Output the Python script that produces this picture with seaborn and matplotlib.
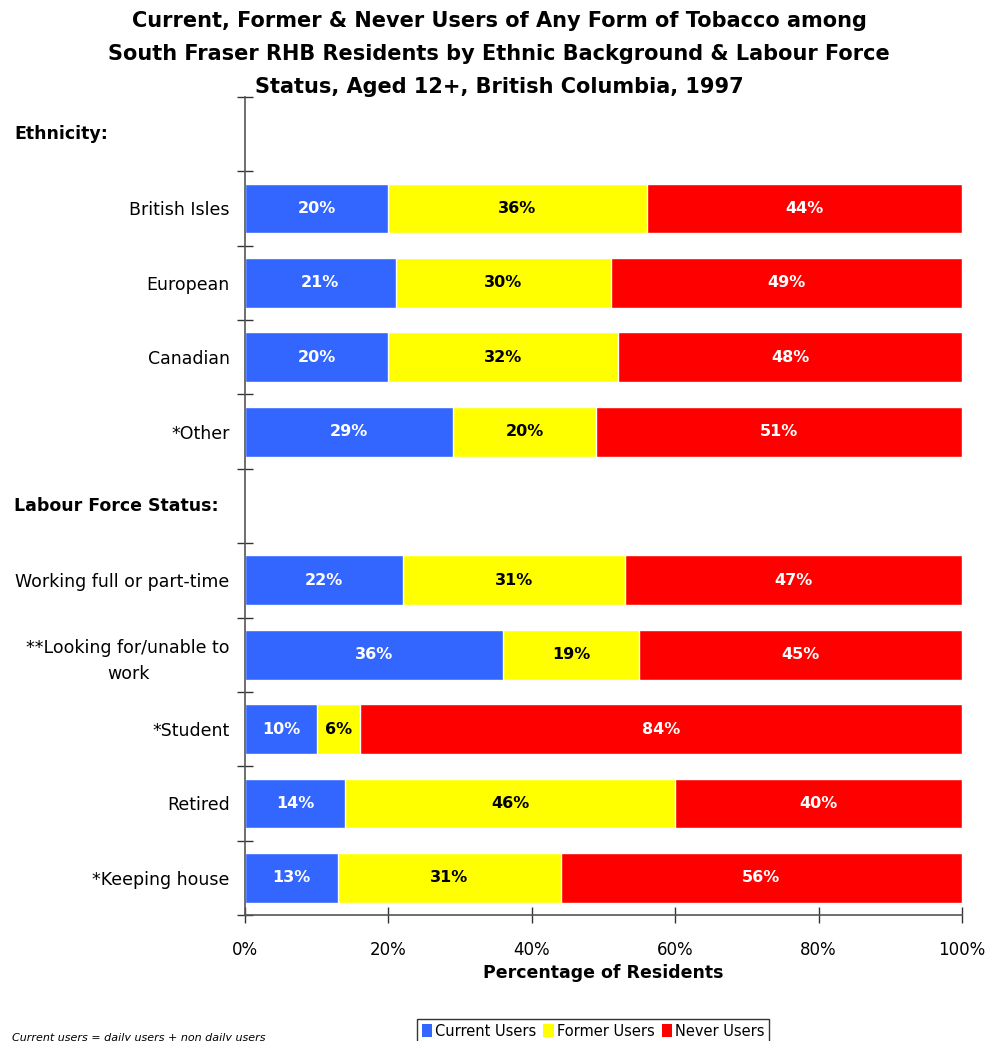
import matplotlib
matplotlib.use("Agg")
import matplotlib.pyplot as plt
import seaborn as sns
import numpy as np
import pandas as pd
from matplotlib.patches import Patch
from matplotlib.transforms import blended_transform_factory

rows = ["Ethnicity:", "British Isles", "European", "Canadian", "*Other",
        "Labour Force Status:", "Working full or part-time",
        "**Looking for/unable to\nwork", "*Student", "Retired", "*Keeping house"]
headers = ["Ethnicity:", "Labour Force Status:"]

groups = ["British Isles", "European", "Canadian", "*Other",
          "Working full or part-time", "**Looking for/unable to\nwork",
          "*Student", "Retired", "*Keeping house"]
current = [20, 21, 20, 29, 22, 36, 10, 14, 13]
former = [36, 30, 32, 20, 31, 19, 6, 46, 31]
never = [44, 49, 48, 51, 47, 45, 84, 40, 56]

series = ["Current Users", "Former Users", "Never Users"]
colors = ["#3366FF", "#FFFF00", "#FF0000"]
label_colors = ["white", "black", "white"]

sns.set_style("white", {"xtick.bottom": True, "ytick.left": True,
                        "text.color": "black", "axes.labelcolor": "black",
                        "xtick.color": "black", "ytick.color": "black"})
plt.rcParams["font.family"] = ["DejaVu Sans"]

df = pd.DataFrame({"group": groups, "current": current,
                   "former": former, "never": never})
df["c1"] = df["current"]
df["c2"] = df["current"] + df["former"]
df["c3"] = df["c2"] + df["never"]

fig = plt.figure(figsize=(9.88, 10.41), dpi=100)
ax = fig.add_axes([0.248, 0.121, 0.7257, 0.7859])

# draw back to front: cumulative totals
for col, color in zip(["c3", "c2", "c1"], colors[::-1]):
    sns.barplot(data=df, x=col, y="group", order=rows, orient="h",
                color=color, width=0.67, saturation=1, ax=ax)

# value labels in the middle of each segment
for i, g in enumerate(groups):
    pos = rows.index(g)
    start = 0
    for val, lc in zip([current[i], former[i], never[i]], label_colors):
        ax.text(start + val / 2, pos, f"{val}%", ha="center", va="center",
                color=lc, fontsize=11.5, fontweight="bold")
        start += val

ax.set_xlim(0, 100)
ax.set_ylim(len(rows) - 0.5, -0.5)
ax.set_xticks(np.arange(0, 101, 20))
ax.set_xticklabels([f"{t}%" for t in range(0, 101, 20)], fontsize=12)
ax.set_xlabel("Percentage of Residents", fontsize=12.5, fontweight="bold",
              labelpad=3)
ax.set_ylabel("")

ticklabels = ["" if r in headers else r for r in rows]
ax.set_yticks(range(len(rows)))
ax.set_yticklabels(ticklabels, fontsize=12.5, multialignment="center",
                   linespacing=1.6)
ax.tick_params(axis="y", which="major", length=0, pad=11)
ax.set_yticks(np.arange(-0.5, len(rows), 1), minor=True)
ax.tick_params(axis="y", which="minor", length=12, direction="inout",
               color="#333333", width=1, left=True)
ax.tick_params(axis="x", length=12, direction="inout", color="#333333",
               width=1, pad=13, bottom=True)

trans = blended_transform_factory(fig.transFigure, ax.transData)
for r in headers:
    ax.text(14 / 988, rows.index(r), r, transform=trans,
            fontsize=12.5, fontweight="bold", va="center", ha="left")

sns.despine(ax=ax, top=True, right=True)
for s in ["left", "bottom"]:
    ax.spines[s].set_color("#555555")
    ax.spines[s].set_linewidth(1.2)

fig.suptitle("Current, Former & Never Users of Any Form of Tobacco among\n"
             "South Fraser RHB Residents by Ethnic Background & Labour Force\n"
             "Status, Aged 12+, British Columbia, 1997",
             x=0.505, y=0.989, fontsize=15, fontweight="bold", linespacing=1.8)

handles = [Patch(facecolor=c, edgecolor="none") for c in colors]
leg = fig.legend(handles, series, loc="upper center", ncol=3,
                 bbox_to_anchor=(593 / 988, 1 - 1012 / 1041), fontsize=10.5,
                 frameon=True, fancybox=False, handlelength=0.7,
                 handleheight=1.0, handletextpad=0.2, columnspacing=0.5,
                 borderpad=0.3)
leg.get_frame().set_edgecolor("black")
leg.get_frame().set_linewidth(1)

fig.text(12 / 988, 1 - 1033 / 1041, "Current users = daily users + non daily users",
         fontsize=8, style="italic", va="top", ha="left")

fig.savefig("out.png", dpi=100)
